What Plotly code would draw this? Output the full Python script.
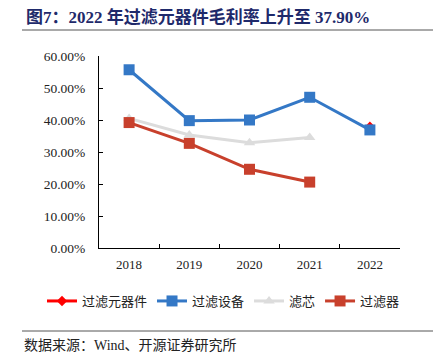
import plotly.graph_objects as go

years = ["2018", "2019", "2020", "2021", "2022"]
yuanqijian = [None, None, None, None, 37.90]
shebei = [55.7, 39.8, 40.0, 47.1, 36.9]
lvxin = [40.5, 35.3, 32.9, 34.5, None]
lvqi = [39.2, 32.7, 24.6, 20.6, None]
ytick_vals = [0, 10, 20, 30, 40, 50, 60]
ytick_text = ["0.00%", "10.00%", "20.00%", "30.00%", "40.00%", "50.00%", "60.00%"]

SERIF = "Liberation Serif, Times New Roman, Noto Sans CJK SC, serif"
CJK = "Noto Sans CJK SC, Liberation Serif, sans-serif"

fig = go.Figure()
fig.add_trace(go.Scatter(x=years, y=yuanqijian, name="过滤元器件", mode="lines+markers",
                         line=dict(color="#ff0000", width=3),
                         marker=dict(symbol="diamond", size=8, color="#ff0000")))
fig.add_trace(go.Scatter(x=years, y=shebei, name="过滤设备", mode="lines+markers",
                         line=dict(color="#3478c6", width=3),
                         marker=dict(symbol="square", size=11, color="#3478c6")))
fig.add_trace(go.Scatter(x=years, y=lvxin, name="滤芯", mode="lines+markers",
                         line=dict(color="#dcdcdc", width=3),
                         marker=dict(symbol="triangle-up", size=10, color="#dcdcdc")))
fig.add_trace(go.Scatter(x=years, y=lvqi, name="过滤器", mode="lines+markers",
                         line=dict(color="#c8402c", width=3),
                         marker=dict(symbol="square", size=11, color="#c8402c")))

OFF = 8  # page body margin
W, H = 445, 360
L, T = 99 - OFF, 56 - OFF
pw, ph = 301, 192
R, B = W - L - pw, H - T - ph

def px(x):
    return (x - OFF - L) / pw

def py(y):
    return (T + ph - (y - OFF)) / ph

fig.update_layout(
    width=W, height=H,
    margin=dict(l=L, r=R, t=T, b=B, pad=0),
    paper_bgcolor="white", plot_bgcolor="white",
    showlegend=True,
    legend=dict(orientation="h", x=px(42), xanchor="left", y=py(301), yanchor="middle",
                font=dict(family=CJK, size=13, color="#222"), itemwidth=30,
                tracegroupgap=0, bgcolor="rgba(0,0,0,0)"),
    xaxis=dict(type="category", range=[-0.5, 4.5], showline=True, linecolor="#000", linewidth=1,
               ticks="inside", ticklen=4, tickcolor="#000", tickson="boundaries",
               showgrid=False, zeroline=False, ticklabelstandoff=4,
               tickfont=dict(family=SERIF, size=13, color="#222")),
    yaxis=dict(range=[0, 60], tickvals=ytick_vals, ticktext=ytick_text,
               showline=True, linecolor="#000", linewidth=1, ticks="inside",
               ticklen=4, tickcolor="#000", showgrid=False, zeroline=False,
               ticklabelstandoff=10,
               tickfont=dict(family=SERIF, size=13.5, color="#222")),
    shapes=[
        dict(type="line", xref="paper", yref="paper", x0=px(22), x1=px(433), y0=py(30), y1=py(30),
             line=dict(color="#555", width=1)),
        dict(type="line", xref="paper", yref="paper", x0=px(22), x1=px(433), y0=py(331), y1=py(331),
             line=dict(color="#555", width=1)),
    ],
    annotations=[
        dict(text="<b>图7：2022 年过滤元器件毛利率上升至 37.90%</b>", xref="paper", yref="paper",
             x=px(24), y=py(17), xanchor="left", yanchor="middle", showarrow=False,
             font=dict(family=SERIF, size=17, color="#1f2a6b")),
        dict(text="数据来源：Wind、开源证券研究所", xref="paper", yref="paper",
             x=px(22), y=py(345), xanchor="left", yanchor="middle", showarrow=False,
             font=dict(family=SERIF, size=14, color="#222")),
    ],
)

fig.write_html("out.html")
